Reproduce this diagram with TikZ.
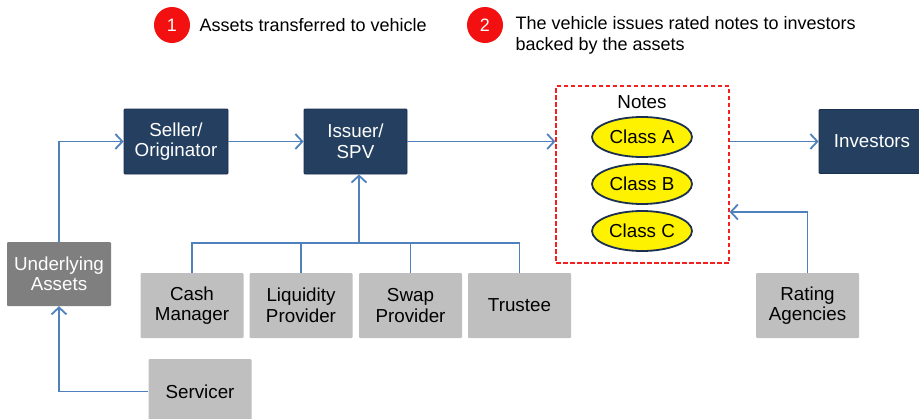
\documentclass[tikz,border=0pt]{standalone}
\usepackage{fontspec}
\setmainfont{Liberation Sans}
\usetikzlibrary{arrows.meta,shapes.geometric}
\definecolor{navy}{HTML}{243F60}
\definecolor{navyline}{HTML}{1B3050}
\definecolor{lgray}{HTML}{BFBFBF}
\definecolor{dgray}{HTML}{7F7F7F}
\definecolor{conn}{HTML}{4F81BD}
\definecolor{redc}{HTML}{F21010}
\definecolor{dashred}{HTML}{F42020}
\tikzset{
  every node/.style={font=\fontsize{18}{20.5}\selectfont},
  boxfont/.style={font=\fontsize{18.8}{20.5}\selectfont},
  darkbox/.style={boxfont, draw=navyline, line width=0.8pt, fill=navy, text=white, align=center, inner sep=0pt, rounded corners=1pt},
  graybox/.style={boxfont, fill=lgray, text=black, align=center, inner sep=0pt, rounded corners=1pt, minimum width=103pt, minimum height=65pt},
  ubox/.style={boxfont, fill=dgray, text=white, align=center, inner sep=0pt, rounded corners=1pt},
  cls/.style={boxfont, ellipse, draw=navyline, line width=1.8pt, fill=yellow, inner sep=0pt, minimum width=100pt, minimum height=40pt},
  conline/.style={draw=conn, line width=1.8pt},
  arr/.style={conline, -{Straight Barb[length=7pt,width=15pt,line width=1.8pt]}},
  numc/.style={circle, fill=redc, text=white, inner sep=0pt, minimum size=36pt},
}
\begin{document}
\begin{tikzpicture}[x=1pt,y=-1pt]
\useasboundingbox (0,0) rectangle (919,418);
% legend
\node[numc] (n1) at (172,25) {1};
\node[anchor=west] (t1) at (196,25) {Assets transferred to vehicle};
\node[numc] (n2) at (485,25) {2};
\node[anchor=west, align=left] (t2) at (512,35.5) {The vehicle issues rated notes to investors\\backed by the assets};
% main boxes
\node[darkbox, minimum width=104pt, minimum height=65pt] (seller) at (176,141.5) {Seller/\\Originator};
\node[darkbox, minimum width=103pt, minimum height=65pt] (issuer) at (355.5,141.5) {Issuer/\\SPV};
\node[darkbox, minimum width=106pt, minimum height=64pt] (investors) at (872,141.5) {Investors};
\node[ubox, minimum width=104pt, minimum height=64pt] (underlying) at (59,274) {Underlying\\Assets};
% notes
\node[draw=dashred, dashed, line width=1.2pt, dash pattern=on 4.5pt off 2.5pt, minimum width=173pt, minimum height=177pt, inner sep=0pt] (notes) at (642.5,174.5) {};
\node[boxfont] (noteslbl) at (642,102) {Notes};
\node[cls] (ca) at (642,137) {Class A};
\node[cls] (cb) at (642,184) {Class B};
\node[cls] (cc) at (642,231) {Class C};
% bottom boxes
\node[graybox] (cash) at (192,305.5) {Cash\\Manager};
\node[graybox] (liq) at (301,305.5) {Liquidity\\Provider};
\node[graybox] (swap) at (410.5,305.5) {Swap\\Provider};
\node[graybox] (trustee) at (519.5,305.5) {Trustee};
\node[graybox] (rating) at (807.5,305.5) {Rating\\Agencies};
\node[graybox] (servicer) at (200,391.5) {Servicer};
% connectors
\draw[arr] (underlying.north) |- (seller.west);
\draw[arr] (seller.east) -- (issuer.west);
\draw[arr] (issuer.east) -- (issuer.east -| notes.west);
\draw[arr] (notes.east |- investors.west) -- (investors.west);
\coordinate (bus) at (359,243);
\draw[conline] (cash.north) |- (bus) -| (trustee.north);
\draw[conline] (liq.north) -- (liq.north |- bus);
\draw[conline] (swap.north) -- (swap.north |- bus);
\draw[arr] (bus) -- (bus |- issuer.south);
\draw[arr] (rating.north) |- (notes.east |- 0,212);
\draw[arr] (servicer.west) -| (underlying.south);
\end{tikzpicture}
\end{document}
